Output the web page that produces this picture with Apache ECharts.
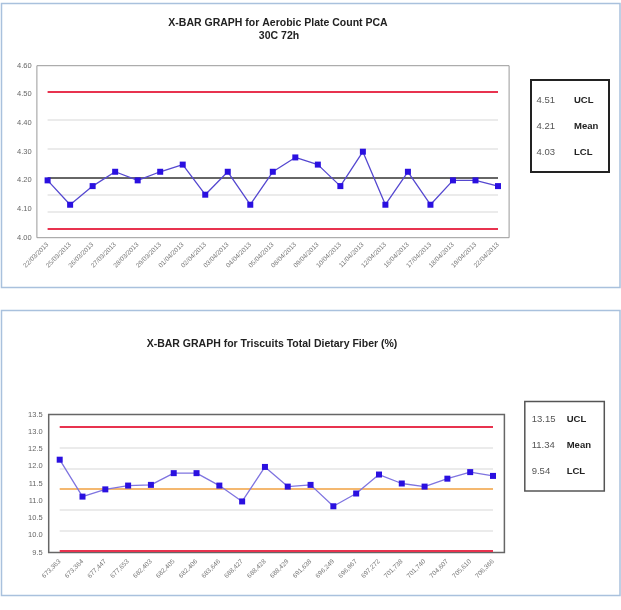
<!DOCTYPE html>
<html>
<head>
<meta charset="utf-8">
<script src="https://cdn.jsdelivr.net/npm/echarts@6/dist/echarts.min.js"></script>
<style>
html,body{margin:0;padding:0;background:#fff;}
#c{width:621px;height:610px;}
</style>
</head>
<body>
<div id="c"></div>
<script>
// ---- Chart 1 data ----
var title1 = 'X-BAR GRAPH for Aerobic Plate Count PCA';
var subtitle1 = '30C 72h';
var dates1 = ['22/03/2013','25/03/2013','26/03/2013','27/03/2013','28/03/2013','29/03/2013','01/04/2013','02/04/2013','03/04/2013','04/04/2013','05/04/2013','08/04/2013','09/04/2013','10/04/2013','11/04/2013','12/04/2013','16/04/2013','17/04/2013','18/04/2013','19/04/2013','22/04/2013'];
var values1 = [4.20,4.115,4.18,4.23,4.20,4.23,4.255,4.15,4.23,4.115,4.23,4.28,4.255,4.18,4.30,4.115,4.23,4.115,4.20,4.20,4.18];
var limitNames = ['UCL','Mean','LCL'];
var limits1 = [4.51, 4.21, 4.03];
var zones1 = [4.41, 4.31, 4.15, 4.09];
var yTicks1 = {min: 4.0, max: 4.6, step: 0.1};

// ---- Chart 2 data ----
var title2 = 'X-BAR GRAPH for Triscuits Total Dietary Fiber (%)';
var lots2 = ['673,363','673,364','677,447','677,653','682,403','682,405','682,406','683,646','688,427','688,428','688,429','691,638','696,249','696,967','697,272','701,738','701,740','704,607','705,610','706,366'];
var values2 = [12.19,11.12,11.33,11.44,11.46,11.80,11.80,11.44,10.98,11.98,11.41,11.46,10.84,11.21,11.76,11.50,11.41,11.64,11.83,11.72];
var limits2 = [13.15, 11.34, 9.54];
var zones2 = [12.54, 11.94, 10.74, 10.14];
var yTicks2 = {min: 9.5, max: 13.5, step: 0.5};

var FONT = '"Liberation Sans", Arial, sans-serif';
var chart = echarts.init(document.getElementById('c'), null, {renderer: 'canvas'});

function limitLines(limits, zones, meanColor) {
  var d = [];
  zones.forEach(function (z) { d.push({yAxis: z, lineStyle: {color: '#e4e4e4', width: 1.5, type: 'solid'}}); });
  d.push({yAxis: limits[0], lineStyle: {color: '#e8334f', width: 2, type: 'solid'}});
  d.push({yAxis: limits[1], lineStyle: {color: meanColor, width: 1.5, type: 'solid'}});
  d.push({yAxis: limits[2], lineStyle: {color: '#e8334f', width: 2, type: 'solid'}});
  return {silent: true, symbol: ['none','none'], label: {show: false}, animation: false, data: d};
}

function legendGraphics(x, y, w, h, border, bw, limits, dec, rowY, valX, nameX, fs) {
  var g = [{
    type: 'rect', shape: {x: x, y: y, width: w, height: h},
    style: {fill: '#fff', stroke: border, lineWidth: bw}, z: 10
  }];
  limits.forEach(function (v, i) {
    g.push({type: 'text', x: valX, y: rowY[i], z: 11,
      style: {text: v.toFixed(dec), fill: '#555', font: fs + 'px ' + FONT, textVerticalAlign: 'middle'}});
    g.push({type: 'text', x: nameX, y: rowY[i], z: 11,
      style: {text: limitNames[i], fill: '#222', font: 'bold ' + fs + 'px ' + FONT, textVerticalAlign: 'middle'}});
  });
  return g;
}

var graphics = [
  {type: 'rect', shape: {x: 1.5, y: 3.5, width: 618.5, height: 284}, style: {fill: 'none', stroke: '#a9c1dd', lineWidth: 1.5}, z: 0},
  {type: 'rect', shape: {x: 1.5, y: 310.5, width: 618.5, height: 285}, style: {fill: 'none', stroke: '#a9c1dd', lineWidth: 1.5}, z: 0},
  {type: 'rect', shape: {x: 36.9, y: 65.7, width: 472.2, height: 172}, style: {fill: 'none', stroke: '#999', lineWidth: 1}, z: 1},
  {type: 'rect', shape: {x: 48.7, y: 414.5, width: 455.7, height: 138}, style: {fill: 'none', stroke: '#666', lineWidth: 1.5}, z: 1},
  {type: 'text', x: 278, y: 22.7, style: {text: title1, fill: '#222', font: 'bold 10.5px ' + FONT, textAlign: 'center', textVerticalAlign: 'middle'}},
  {type: 'text', x: 279, y: 36.5, style: {text: subtitle1, fill: '#222', font: 'bold 10.5px ' + FONT, textAlign: 'center', textVerticalAlign: 'middle'}},
  {type: 'text', x: 272, y: 344, style: {text: title2, fill: '#222', font: 'bold 10.5px ' + FONT, textAlign: 'center', textVerticalAlign: 'middle'}}
];
graphics = graphics.concat(legendGraphics(531, 80, 78, 92, '#222', 2, limits1, 2, [100, 126, 152.7], 536.5, 574, 9.5));
graphics = graphics.concat(legendGraphics(524.8, 401.5, 79.5, 89.5, '#555', 1.5, limits2, 2, [419.3, 445.3, 471.7], 531.7, 566.7, 9.5));

function yLabel(dec, margin) {
  return {color: '#666', fontSize: 7.5, fontFamily: FONT, margin: margin,
    formatter: function (v) { return Number(v).toFixed(dec); }};
}
function xLabel(margin) {
  return {rotate: 45, interval: 0, color: '#777', fontSize: 6.5, fontFamily: FONT, margin: margin};
}

var option = {
  animation: false,
  backgroundColor: '#fff',
  grid: [
    {left: 47.6, top: 65.7, width: 450.4, height: 172},
    {left: 59.7, top: 414.5, width: 433.3, height: 138}
  ],
  xAxis: [
    {type: 'category', gridIndex: 0, data: dates1, boundaryGap: false,
      axisLine: {show: false}, axisTick: {show: false}, splitLine: {show: false}, axisLabel: xLabel(6)},
    {type: 'category', gridIndex: 1, data: lots2, boundaryGap: false,
      axisLine: {show: false}, axisTick: {show: false}, splitLine: {show: false}, axisLabel: xLabel(8)}
  ],
  yAxis: [
    {type: 'value', gridIndex: 0, min: yTicks1.min, max: yTicks1.max, interval: yTicks1.step,
      axisLine: {show: false}, axisTick: {show: false}, splitLine: {show: false}, axisLabel: yLabel(2, 16)},
    {type: 'value', gridIndex: 1, min: yTicks2.min, max: yTicks2.max, interval: yTicks2.step,
      axisLine: {show: false}, axisTick: {show: false}, splitLine: {show: false}, axisLabel: yLabel(1, 17)}
  ],
  series: [
    {type: 'line', xAxisIndex: 0, yAxisIndex: 0, data: values1, z: 5,
      symbol: 'rect', symbolSize: 6, showSymbol: true,
      lineStyle: {color: '#5548d0', width: 1.3},
      itemStyle: {color: '#2a10e0', borderWidth: 0},
      markLine: limitLines(limits1, zones1, '#333')},
    {type: 'line', xAxisIndex: 1, yAxisIndex: 1, data: values2, z: 5,
      symbol: 'rect', symbolSize: 6, showSymbol: true,
      lineStyle: {color: '#7f74e0', width: 1.3},
      itemStyle: {color: '#2a10e0', borderWidth: 0},
      markLine: limitLines(limits2, zones2, '#f0a040')}
  ],
  graphic: graphics
};
chart.setOption(option);
</script>
</body>
</html>
